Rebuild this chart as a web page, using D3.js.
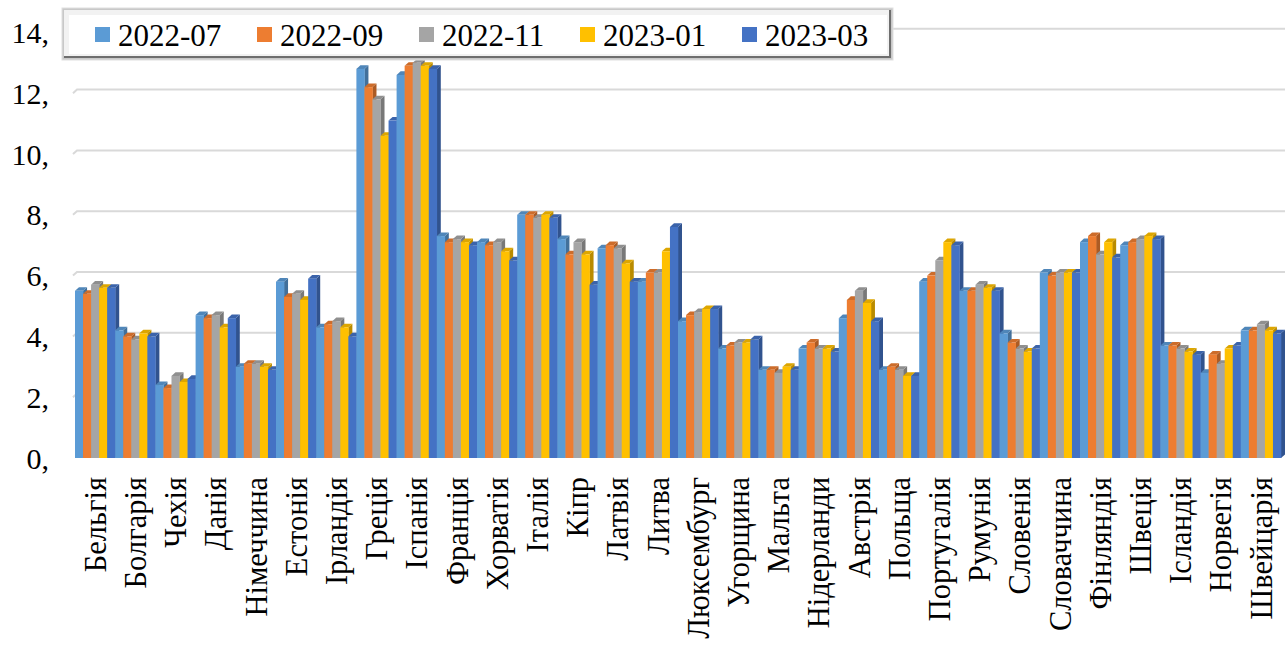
<!DOCTYPE html>
<html lang="uk">
    <head>
        <meta charset="utf-8">
        <title>Chart</title>
        <script type="text/javascript" src="https://cdn.jsdelivr.net/npm/d3@7"></script>
        <style>
            body { margin: 0; background: #fff; }
            svg text { font-family: "Liberation Serif", "Times New Roman", "DejaVu Serif", serif; fill: #000; }
        </style>
    </head>
    <body>
        <div id="chart"></div>
        <script type="text/javascript">
            var countries = ["Бельгія","Болгарія","Чехія","Данія","Німеччина","Естонія","Ірландія","Греція","Іспанія","Франція",
                "Хорватія","Італія","Кіпр","Латвія","Литва","Люксембург","Угорщина","Мальта","Нідерланди","Австрія",
                "Польща","Португалія","Румунія","Словенія","Словаччина","Фінляндія","Швеція","Ісландія","Норвегія","Швейцарія"]
            var seriesNames = ["2022-07","2022-09","2022-11","2023-01","2023-03"]

            var s2207 = [5.5,4.2,2.4,4.7,3.0,5.8,4.3,12.8,12.6,7.3,7.1,8.0,7.2,6.9,5.8,4.5,3.6,2.9,3.6,4.6,2.9,5.8,5.5,4.1,6.1,7.1,7.0,3.7,2.8,4.2]
            var s2209 = [5.4,4.0,2.3,4.6,3.1,5.3,4.4,12.2,12.9,7.1,7.0,8.0,6.7,7.0,6.1,4.7,3.7,2.9,3.8,5.2,3.0,6.0,5.5,3.8,6.0,7.3,7.1,3.7,3.4,4.2]
            var s2211 = [5.7,3.9,2.7,4.7,3.1,5.4,4.5,11.8,13.0,7.2,7.1,7.9,7.1,6.9,6.1,4.8,3.8,2.8,3.6,5.5,2.9,6.5,5.7,3.6,6.1,6.7,7.2,3.6,3.1,4.4]
            var s2301 = [5.6,4.1,2.5,4.3,3.0,5.2,4.3,10.6,12.9,7.1,6.8,8.0,6.7,6.4,6.8,4.9,3.8,3.0,3.6,5.1,2.7,7.1,5.6,3.5,6.1,7.1,7.3,3.5,3.6,4.2]
            var s2303 = [5.6,4.0,2.6,4.6,2.9,5.9,4.0,11.1,12.8,7.0,6.5,7.9,5.7,5.8,7.6,4.9,3.9,2.9,3.5,4.5,2.7,7.0,5.5,3.6,6.1,6.6,7.2,3.4,3.7,4.1]
            var yTicks = [0,2,4,6,8,10,12,14]
            var yTickLabels = ["0,","2,","4,","6,","8,","10,","12,","14,"]

            var colors = ["#5B9BD5","#ED7D31","#A5A5A5","#FFC000","#4472C4"]
            var allSeries = [s2207,s2209,s2211,s2301,s2303]
            var serif = "'Liberation Serif', 'Times New Roman', 'DejaVu Serif', serif"

            var w = 1287
            var h = 645
            var dx = 4, dy = 3.6

            var svg = d3.select("#chart")
                .append("svg")
                .attr("width", w)
                .attr("height", h)

            var x0 = d3.scaleBand().domain(countries).range([75, 1281]).padding(0)
            var x1 = d3.scaleBand().domain(seriesNames).range([0, x0.bandwidth()]).padding(0)
            var y = d3.scaleLinear().domain([0, 14]).range([458, 458 - 14 * 30.4])

            // gridlines on the back wall
            svg.append("g").selectAll("path")
                .data(yTicks.filter(function(d){ return d > 0 }))
                .enter()
                .append("path")
                .attr("d", function(d){
                    var yy = y(d)
                    return "M73," + yy + "L" + (73 + dx) + "," + (yy - dy) + "L1285," + (yy - dy)
                })
                .attr("fill", "none")
                .attr("stroke", "#d9d9d9")
                .attr("stroke-width", 2)

            // y labels
            svg.append("g").selectAll("text")
                .data(yTicks)
                .enter()
                .append("text")
                .text(function(d,i){ return yTickLabels[i] })
                .attr("x", 49)
                .attr("y", function(d){ return y(d) })
                .attr("dy", "0.35em")
                .attr("text-anchor", "end")
                .attr("font-family", serif)
                .attr("font-size", "30px")

            var bars = []
            countries.forEach(function(c, i){
                seriesNames.forEach(function(s, j){
                    bars.push({country: c, series: s, j: j, value: allSeries[j][i]})
                })
            })

            var base = y(0)
            var g = svg.append("g").selectAll("g")
                .data(bars)
                .enter()
                .append("g")

            g.append("path")
                .attr("d", function(d){
                    var x = x0(d.country) + x1(d.series), bw = x1.bandwidth(), t = y(d.value)
                    return "M" + (x + bw) + "," + t + "L" + (x + bw + dx) + "," + (t - dy) +
                        "L" + (x + bw + dx) + "," + (base - dy) + "L" + (x + bw) + "," + base + "Z"
                })
                .attr("fill", function(d){ return d3.color(colors[d.j]).darker(0.9) })

            g.append("path")
                .attr("d", function(d){
                    var x = x0(d.country) + x1(d.series), bw = x1.bandwidth(), t = y(d.value)
                    return "M" + x + "," + t + "L" + (x + dx) + "," + (t - dy) +
                        "L" + (x + bw + dx) + "," + (t - dy) + "L" + (x + bw) + "," + t + "Z"
                })
                .attr("fill", function(d){ return d3.color(colors[d.j]).darker(0.4) })

            g.append("rect")
                .attr("x", function(d){ return x0(d.country) + x1(d.series) })
                .attr("y", function(d){ return y(d.value) })
                .attr("width", x1.bandwidth() + 0.3)
                .attr("height", function(d){ return base - y(d.value) })
                .attr("fill", function(d){ return colors[d.j] })

            // category labels
            svg.append("g").selectAll("text")
                .data(countries)
                .enter()
                .append("text")
                .text(function(d){ return d })
                .attr("transform", function(d){
                    return "translate(" + (x0(d) + x0.bandwidth() / 2) + ",477) rotate(-90)"
                })
                .attr("dy", "0.35em")
                .attr("text-anchor", "end")
                .attr("font-family", serif)
                .attr("font-size", "30.5px")

            // legend
            var legend = svg.append("g")
            legend.append("rect")
                .attr("x", 62).attr("y", 8).attr("width", 831).attr("height", 52)
                .attr("fill", "#c8c8c8").attr("stroke", "#e0e0e0")
            legend.append("rect")
                .attr("x", 64).attr("y", 10).attr("width", 827).attr("height", 48)
                .attr("fill", "#f2f2f2")
            legend.append("path")
                .attr("d", "M889,10L891,10L891,58L64,58L64,56L889,56Z")
                .attr("fill", "#6e6e6e")
            legend.append("rect")
                .attr("x", 69).attr("y", 15).attr("width", 818).attr("height", 39)
                .attr("fill", "#ffffff")

            var itemX = [95, 257, 419, 580, 742]
            var item = legend.selectAll("g.item")
                .data(seriesNames)
                .enter()
                .append("g")
                .attr("class", "item")
            item.append("rect")
                .attr("x", function(d,i){ return itemX[i] })
                .attr("y", 27)
                .attr("width", 15)
                .attr("height", 15)
                .attr("fill", function(d,i){ return colors[i] })
            item.append("text")
                .text(function(d){ return d })
                .attr("x", function(d,i){ return itemX[i] + 23 })
                .attr("y", 46)
                .attr("font-family", serif)
                .attr("font-size", "31px")
        </script>
    </body>
</html>
